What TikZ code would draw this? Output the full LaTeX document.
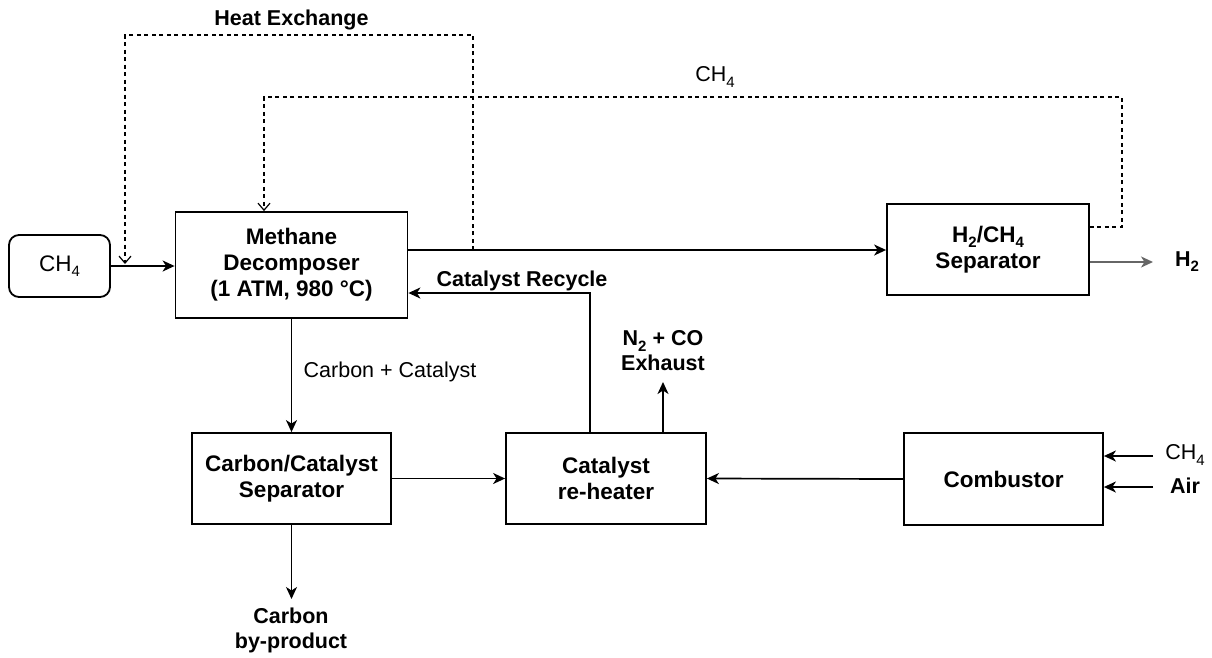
\documentclass[tikz,border=0pt]{standalone}
\usepackage{fontspec}
\setmainfont{Liberation Sans}
\usetikzlibrary{arrows.meta}
\newcommand\lsub[1]{\raisebox{-0.45ex}{\fontsize{15}{15}\selectfont #1}}
\begin{document}
\begin{tikzpicture}[x=1pt,y=-1pt,
  box/.style={draw,line width=1.8pt,align=center,inner sep=0pt,
    font=\fontsize{22.5}{26}\selectfont\bfseries},
  lbl/.style={align=center,inner sep=0pt,font=\fontsize{21.5}{25}\selectfont\bfseries},
  lblr/.style={align=center,inner sep=0pt,font=\fontsize{21.5}{25}\selectfont},
  arr/.style={line width=1.7pt,-{Stealth[length=12pt,width=11pt,inset=3.5pt]}},
  dline/.style={line width=1.1pt,dash pattern=on 4pt off 3.5pt,
    -{Straight Barb[length=7pt,width=12pt,line width=1.2pt]}}
]
\useasboundingbox (0,0) rectangle (1212,657);
% boxes
\node[box,font=\fontsize{22.5}{26}\selectfont,rounded corners=10pt,minimum width=101pt,minimum height=62pt] (ch4) at (59.5,266) {CH\lsub{4}};
\node[box,minimum width=232pt,minimum height=106pt] (meth) at (291.5,265) {Methane\\Decomposer\\(1 ATM, 980 °C)};
\node[box,minimum width=202pt,minimum height=91pt] (sep) at (988,249.5) {H\lsub{2}/CH\lsub{4}\\Separator};
\node[box,minimum width=199pt,minimum height=91pt] (csep) at (291.5,478.5) {Carbon/Catalyst\\Separator};
\node[box,minimum width=200pt,minimum height=91pt] (reh) at (606,478.5) {Catalyst\\re-heater};
\node[box,minimum width=199pt,minimum height=92pt] (comb) at (1003.5,479) {Combustor};
% coordinates
\coordinate (hx) at (473,250);
\coordinate (hxa) at (473,35);
\coordinate (hxb) at (125,35);
\coordinate (hxc) at (125,264);
\coordinate (c1) at (1122,227);
\coordinate (c2) at (1122,97);
\coordinate (c3) at (264,97);
\coordinate (rc) at (590,293);
\coordinate (ex) at (663,382);
\coordinate (bp) at (291.5,599);
\coordinate (h2) at (1153,262);
\coordinate (cin1) at (1153,456);
\coordinate (cin2) at (1153,487);
% connectors
\draw[arr] (ch4.east) -- (meth.west |- ch4.east);
\draw[arr] (meth.east |- hx) -- (sep.west |- hx);
\draw[dline] (hx) -- (hxa) -- (hxb) -- (hxc);
\draw[dline] (sep.east |- c1) -- (c1) -- (c2) -- (c3) -- (meth.north -| c3);
\draw[arr] (reh.north -| rc) -- (rc) -- (meth.east |- rc);
\draw[arr] (reh.north -| ex) -- (ex);
\draw[arr] (meth.south) -- (csep.north);
\draw[arr] (csep.east) -- (reh.west);
\draw[arr] (comb.west) -- (reh.east);
\draw[arr] (csep.south) -- (bp);
\draw[arr,draw=black!60,fill=black] (sep.east |- h2) -- (h2);
\draw[arr] (cin1) -- (comb.east |- cin1);
\draw[arr] (cin2) -- (comb.east |- cin2);
% labels
\node[lbl] (lhx) at (291.5,20) {Heat Exchange};
\node[lblr] (lch4) at (715,77) {CH\lsub{4}};
\node[lbl] (lrc) at (522,281) {Catalyst Recycle};
\node[lbl] (lex) at (663,351) {N\lsub{2} + CO\\Exhaust};
\node[lblr] (lcc) at (390,372) {Carbon + Catalyst};
\node[lbl] (lbp) at (291,630) {Carbon\\by-product};
\node[lbl] (lh2) at (1187,262) {H\lsub{2}};
\node[lblr] (lc4) at (1185,455) {CH\lsub{4}};
\node[lbl] (lair) at (1185,486) {Air};
\end{tikzpicture}
\end{document}
